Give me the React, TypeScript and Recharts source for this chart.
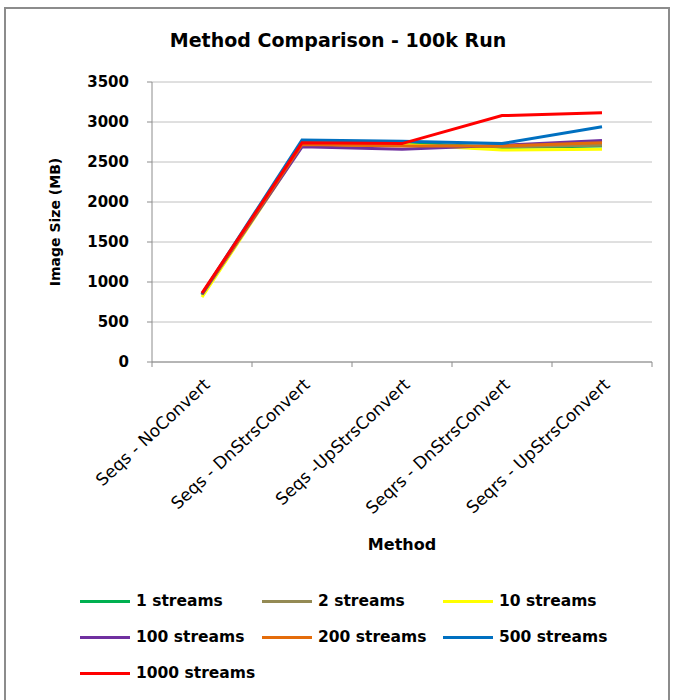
import { LineChart, Line, XAxis, YAxis, CartesianGrid, Legend } from 'recharts';

const methods = [
  'Seqs - NoConvert',
  'Seqs - DnStrsConvert',
  'Seqs -UpStrsConvert',
  'Seqrs - DnStrsConvert',
  'Seqrs - UpStrsConvert',
];

const streams1 = [840, 2740, 2740, 2680, 2700];
const streams2 = [840, 2710, 2710, 2690, 2710];
const streams10 = [810, 2700, 2720, 2650, 2660];
const streams100 = [845, 2690, 2660, 2710, 2770];
const streams200 = [845, 2720, 2700, 2700, 2740];
const streams500 = [850, 2775, 2760, 2730, 2940];
const streams1000 = [860, 2740, 2730, 3080, 3115];

const yTicks = [0, 500, 1000, 1500, 2000, 2500, 3000, 3500];

const series = [
  { key: 's1', name: '1 streams', color: '#00b050', values: streams1 },
  { key: 's2', name: '2 streams', color: '#948a54', values: streams2 },
  { key: 's10', name: '10 streams', color: '#ffff00', values: streams10 },
  { key: 's100', name: '100 streams', color: '#7030a0', values: streams100 },
  { key: 's200', name: '200 streams', color: '#e46c0a', values: streams200 },
  { key: 's500', name: '500 streams', color: '#0070c0', values: streams500 },
  { key: 's1000', name: '1000 streams', color: '#ff0000', values: streams1000 },
];

const data = methods.map((method, i) => {
  const row: Record<string, string | number> = { method };
  series.forEach((s) => { row[s.key] = s.values[i]; });
  return row;
});

const font = "'DejaVu Sans', sans-serif";
const axisColor = '#8c8c8c';
const gridColor = '#c0c0c0';
const plotWidth = 500;
const band = plotWidth / methods.length;
const legendCols = [80, 262, 443];

function MethodTick(props: any) {
  const { x, y, payload, index } = props;
  return (
    <g>
      <line x1={x - band / 2} y1={y} x2={x - band / 2} y2={y + 5} stroke={axisColor} />
      {index === methods.length - 1 && (
        <line x1={x + band / 2} y1={y} x2={x + band / 2} y2={y + 5} stroke={axisColor} />
      )}
      <text
        transform={`translate(${x + 9},${y + 24}) rotate(-43)`}
        textAnchor="end"
        fontFamily={font}
        fontSize={17}
        fill="#000"
      >
        {payload.value}
      </text>
    </g>
  );
}

function StreamLegend() {
  return (
    <div style={{ position: 'relative', width: 673, height: 100, fontFamily: font, fontSize: 15.5, fontWeight: 'bold' }}>
      {series.map((s, i) => (
        <div
          key={s.key}
          style={{
            position: 'absolute',
            left: legendCols[i % 3],
            top: Math.floor(i / 3) * 36,
            display: 'flex',
            alignItems: 'center',
            height: 18,
            whiteSpace: 'nowrap',
          }}
        >
          <span style={{ display: 'inline-block', width: 50, height: 3, background: s.color, marginRight: 6 }} />
          <span>{s.name}</span>
        </div>
      ))}
    </div>
  );
}

export default function App() {
  return (
    <div style={{ position: 'absolute', left: 0, top: 0, width: 673, height: 700, background: '#fff' }}>
      <div
        style={{
          position: 'absolute',
          left: 4,
          top: 7,
          width: 662,
          height: 700,
          border: `2px solid ${axisColor}`,
          borderBottom: 'none',
          pointerEvents: 'none',
        }}
      />
      <div
        style={{
          position: 'absolute',
          left: 0,
          top: 29,
          width: 676,
          textAlign: 'center',
          fontFamily: font,
          fontSize: 19,
          fontWeight: 'bold',
        }}
      >
        Method Comparison - 100k Run
      </div>
      <LineChart
        width={673}
        height={700}
        data={data}
        margin={{ top: 82, right: 21, left: 0, bottom: 148 }}
      >
        <CartesianGrid vertical={false} stroke={gridColor} />
        <XAxis
          dataKey="method"
          height={190}
          interval={0}
          padding={{ left: band / 2, right: band / 2 }}
          tickSize={0}
          tickMargin={0}
          tick={<MethodTick />}
          axisLine={{ stroke: axisColor }}
          label={{
            value: 'Method',
            position: 'insideBottom',
            offset: 2,
            style: { fontFamily: font, fontSize: 16, fontWeight: 'bold', fill: '#000' },
          }}
        />
        <YAxis
          width={152}
          domain={[0, 3500]}
          ticks={yTicks}
          interval={0}
          tickSize={5}
          tickMargin={18}
          tickLine={{ stroke: axisColor }}
          axisLine={{ stroke: axisColor }}
          tick={{ fontFamily: font, fontSize: 15, fontWeight: 'bold', fill: '#000' }}
          label={{
            value: 'Image Size (MB)',
            angle: -90,
            position: 'insideLeft',
            offset: 55,
            style: { textAnchor: 'middle', fontFamily: font, fontSize: 14, fontWeight: 'bold', fill: '#000' },
          }}
        />
        {series.map((s) => (
          <Line
            key={s.key}
            type="linear"
            dataKey={s.key}
            name={s.name}
            stroke={s.color}
            strokeWidth={3}
            dot={false}
            isAnimationActive={false}
          />
        ))}
        <Legend
          layout="horizontal"
          verticalAlign="middle"
          align="center"
          wrapperStyle={{ left: 0, top: 592, width: 673 }}
          content={<StreamLegend />}
        />
      </LineChart>
    </div>
  );
}
